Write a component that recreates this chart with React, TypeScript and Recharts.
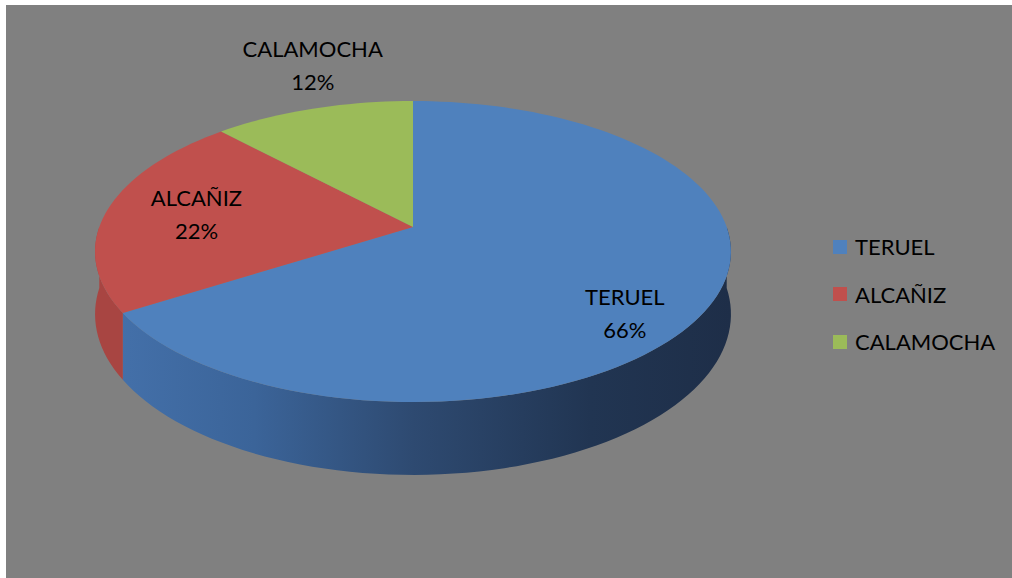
import { PieChart, Pie, Cell, Legend } from "recharts";

const categories = ["TERUEL", "ALCAÑIZ", "CALAMOCHA"];
const shares = [66, 22, 12];

const topColors = ["#4f81bd", "#c0504d", "#9bbb59"];
const sideColors = ["url(#blueSide)", "#a84542", "#7f9a48"];

const FONT = "Lato, 'Liberation Sans', sans-serif";

// fake 3D: tilt of the disc, perspective strength, slab thickness (all relative to radius)
const TILT = 0.467;
const PERSP = 0.163;
const DEPTH = 0.1945;

const data = categories.map((name, i) => ({ name, value: shares[i] }));

function project(cx: number, cy: number, r: number, deg: number, drop = 0) {
  const a = (deg * Math.PI) / 180;
  const z = Math.sin(a);
  const s = 1 / (1 + PERSP * z);
  return {
    x: cx + r * Math.cos(a) * s,
    y: cy - r * TILT * z * s + r * DEPTH * drop * s,
  };
}

function arcPoints(cx: number, cy: number, r: number, a1: number, a2: number, drop: number) {
  const n = Math.max(2, Math.ceil(Math.abs(a2 - a1) / 2));
  const pts: string[] = [];
  for (let i = 0; i <= n; i++) {
    const p = project(cx, cy, r, a1 + ((a2 - a1) * i) / n, drop);
    pts.push(`${p.x.toFixed(2)},${p.y.toFixed(2)}`);
  }
  return pts;
}

function TopShape(props: any) {
  const { cx, cy, outerRadius, startAngle, endAngle, fill } = props;
  const pts = arcPoints(cx, cy, outerRadius, startAngle, endAngle, 0);
  return <path d={`M${cx},${cy}L${pts.join("L")}Z`} fill={fill} />;
}

function SideShape(props: any) {
  const { cx, cy, outerRadius, startAngle, endAngle, fill } = props;
  const lo = Math.min(startAngle, endAngle);
  const hi = Math.max(startAngle, endAngle);
  const parts: string[] = [];
  // only the front half of the rim is visible
  for (let k = -2; k <= 1; k++) {
    const b1 = Math.max(lo, 180 + 360 * k);
    const b2 = Math.min(hi, 360 + 360 * k);
    if (b2 > b1) {
      const top = arcPoints(cx, cy, outerRadius, b1, b2, 0);
      const bottom = arcPoints(cx, cy, outerRadius, b2, b1, 1);
      parts.push(`M${top.join("L")}L${bottom.join("L")}Z`);
    }
  }
  if (!parts.length) return <g />;
  return <path d={parts.join("")} fill={fill} />;
}

function renderLabel(props: any) {
  const { cx, cy, outerRadius, midAngle, percent, name } = props;
  const z = Math.sin((midAngle * Math.PI) / 180);
  const s = 1 / (1 + PERSP * z);
  let x: number;
  let y: number;
  if (percent >= 0.15) {
    const p = project(cx, cy, outerRadius * 0.71, midAngle);
    x = p.x;
    y = p.y + outerRadius * DEPTH * s * Math.max(0, -z);
  } else {
    const p = project(cx, cy, outerRadius, midAngle);
    x = p.x;
    y = z > 0 ? p.y - 44 : p.y + outerRadius * DEPTH * s + 44;
  }
  const style = { fontFamily: FONT, fontSize: 22 };
  return (
    <g>
      <text x={x} y={y - 16.5} textAnchor="middle" dominantBaseline="central" fill="#000" style={style}>
        {name}
      </text>
      <text x={x} y={y + 16.5} textAnchor="middle" dominantBaseline="central" fill="#000" style={style}>
        {`${Math.round(percent * 100)}%`}
      </text>
    </g>
  );
}

function LegendBox() {
  return (
    <div>
      {categories.map((name, i) => (
        <div key={name} style={{ display: "flex", alignItems: "center", height: 47.5 }}>
          <span style={{ display: "inline-block", width: 14, height: 14, background: topColors[i], marginRight: 8 }} />
          <span style={{ fontFamily: FONT, fontSize: 22, color: "#000" }}>{name}</span>
        </div>
      ))}
    </div>
  );
}

export default function App() {
  return (
    <div style={{ position: "absolute", left: 0, top: 0, width: 1012, height: 578, background: "#fff" }}>
      <div style={{ position: "absolute", left: 6, top: 5, right: 0, bottom: 0, background: "#808080" }} />
      <div style={{ position: "absolute", left: 0, top: 0 }}>
        <PieChart width={1012} height={578} margin={{ top: 0, right: 0, bottom: 0, left: 0 }}>
          <defs>
            <linearGradient id="blueSide" gradientUnits="userSpaceOnUse" x1={95} y1={0} x2={731} y2={0}>
              <stop offset="0%" stopColor="#4572ac" />
              <stop offset="25%" stopColor="#3b6499" />
              <stop offset="50%" stopColor="#2e4a71" />
              <stop offset="78%" stopColor="#213552" />
              <stop offset="100%" stopColor="#1e2e48" />
            </linearGradient>
          </defs>
          <Pie
            data={data}
            dataKey="value"
            nameKey="name"
            cx={413}
            cy={227}
            outerRadius={313.7}
            startAngle={90}
            endAngle={-270}
            shape={SideShape}
            legendType="none"
            isAnimationActive={false}
          >
            {data.map((d, i) => (
              <Cell key={d.name} fill={sideColors[i]} />
            ))}
          </Pie>
          <Pie
            data={data}
            dataKey="value"
            nameKey="name"
            cx={413}
            cy={227}
            outerRadius={313.7}
            startAngle={90}
            endAngle={-270}
            shape={TopShape}
            label={renderLabel}
            labelLine={false}
            isAnimationActive={false}
          >
            {data.map((d, i) => (
              <Cell key={d.name} fill={topColors[i]} />
            ))}
          </Pie>
          <Legend
            layout="vertical"
            align="right"
            verticalAlign="middle"
            content={LegendBox}
            wrapperStyle={{ left: 833, top: 223, width: 180, right: "auto" }}
          />
        </PieChart>
      </div>
    </div>
  );
}
